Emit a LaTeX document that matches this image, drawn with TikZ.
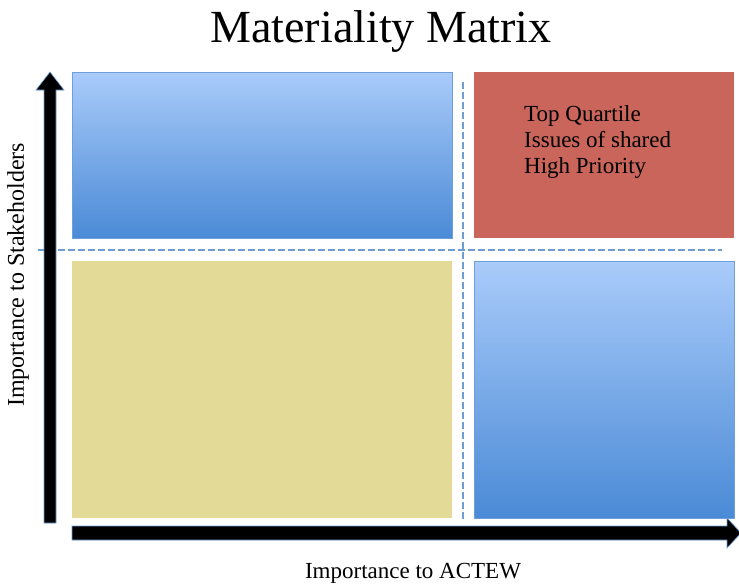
\documentclass[tikz,border=0pt]{standalone}
\usepackage{fontspec}
\setmainfont{Liberation Serif}
\begin{document}
\begin{tikzpicture}[x=1pt,y=-1pt,
  bluebox/.style={draw=blueedge,line width=0.8pt,top color=bluetop,bottom color=bluebot,inner sep=0pt,anchor=north west},
  flatbox/.style={inner sep=0pt,anchor=north west},
  divider/.style={draw=dashblue,line width=2.4pt,dash pattern=on 7pt off 3pt},
  axisarrow/.style={fill=black,draw=blueedge,line width=0.6pt}]
\definecolor{bluetop}{HTML}{A9CBFA}
\definecolor{bluebot}{HTML}{4A8AD6}
\definecolor{blueedge}{HTML}{6E9FDB}
\definecolor{yellowq}{HTML}{E4DA98}
\definecolor{redq}{HTML}{C9655B}
\definecolor{dashblue}{HTML}{6D9DD3}
\useasboundingbox (0,0) rectangle (739,584);
\fill[white] (0,0) rectangle (739,584);
% title
\node[font=\fontsize{46}{50}\selectfont] (title) at (381,32) {Materiality Matrix};
% quadrants
\node[bluebox,minimum width=380pt,minimum height=166pt] (tl) at (72,72) {};
\node[flatbox,fill=redq,minimum width=260pt,minimum height=166pt] (tr) at (474,72) {};
\node[flatbox,fill=yellowq,minimum width=380pt,minimum height=257pt] (bl) at (72,261) {};
\node[bluebox,minimum width=260pt,minimum height=257pt] (br) at (474,261) {};
% red text
\node[anchor=north west,align=left,inner sep=0pt,font=\fontsize{23}{26}\selectfont] (txt) at (524,105) {Top Quartile\\Issues of shared\\High Priority};
% dividers
\coordinate (h1) at (38,250);
\coordinate (h2) at (722,250);
\coordinate (v1) at (463,82);
\coordinate (v2) at (463,520);
\draw[divider] (h1) -- (h2);
\draw[divider] (v1) -- (v2);
% axes
\coordinate (ybase) at (50,523);
\coordinate (ytip) at (50,72);
\coordinate (xbase) at (72,533);
\coordinate (xtip) at (741,533);
\draw[axisarrow] ([xshift=-6pt]ybase) -- ([xshift=-6pt,yshift=-18pt]ytip) -- ([xshift=-14pt,yshift=-18pt]ytip) -- (ytip) -- ([xshift=14pt,yshift=-18pt]ytip) -- ([xshift=6pt,yshift=-18pt]ytip) -- ([xshift=6pt]ybase) -- cycle;
\draw[axisarrow] ([yshift=-7pt]xbase) -- ([xshift=-14pt,yshift=-7pt]xtip) -- ([xshift=-14pt,yshift=-15pt]xtip) -- (xtip) -- ([xshift=-14pt,yshift=15pt]xtip) -- ([xshift=-14pt,yshift=7pt]xtip) -- ([yshift=7pt]xbase) -- cycle;
% axis labels
\node[font=\fontsize{23}{25}\selectfont] (xlab) at (413,573) {Importance to ACTEW};
\node[font=\fontsize{24}{26}\selectfont,rotate=90] (ylab) at (18,275) {Importance to Stakeholders};
\end{tikzpicture}
\end{document}
